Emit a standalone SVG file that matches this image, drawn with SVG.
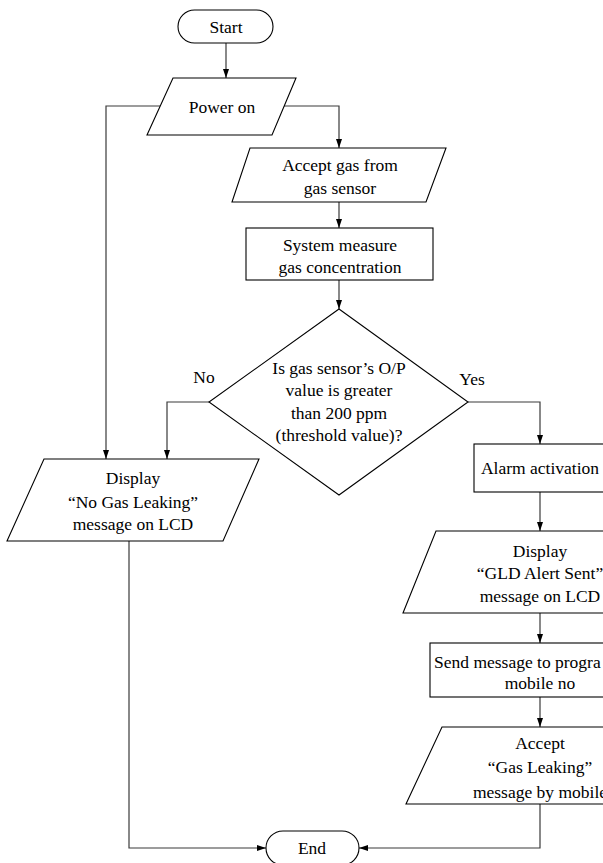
<svg xmlns="http://www.w3.org/2000/svg" width="603" height="863" viewBox="0 0 603 863">
<defs>
<style>
.s{fill:#fff;stroke:#000;stroke-width:1.1}
.c{fill:none;stroke:#3a3a3a;stroke-width:1.2}
text{font-family:"Liberation Serif","Times New Roman",serif;font-size:17.5px;fill:#000;text-anchor:middle}
</style>
<marker id="ah" viewBox="0 0 9 6" refX="9" refY="3" markerWidth="9" markerHeight="6" markerUnits="userSpaceOnUse" orient="auto">
<path d="M0,0 L9,3 L0,6 z" fill="#000"/>
</marker>
</defs>
<rect width="603" height="863" fill="#fff"/>
<g id="connectors">
<path class="c" d="M226,43 V78" marker-end="url(#ah)"/>
<path class="c" d="M160,106 H106 V459" marker-end="url(#ah)"/>
<path class="c" d="M283,106 H339 V148" marker-end="url(#ah)"/>
<path class="c" d="M339,202 V228" marker-end="url(#ah)"/>
<path class="c" d="M339,280 V309" marker-end="url(#ah)"/>
<path class="c" d="M209,402 H167 V459" marker-end="url(#ah)"/>
<path class="c" d="M468,402 H540 V444" marker-end="url(#ah)"/>
<path class="c" d="M540,492 V531" marker-end="url(#ah)"/>
<path class="c" d="M540,613 V643" marker-end="url(#ah)"/>
<path class="c" d="M540,697 V727" marker-end="url(#ah)"/>
<path class="c" d="M540,804 V848 H359" marker-end="url(#ah)"/>
<path class="c" d="M129,541 V848 H266" marker-end="url(#ah)"/>
<text x="204" y="383">No</text>
<text x="472" y="385">Yes</text>
</g>
<g id="start">
<rect class="s" x="178" y="10" width="95" height="33" rx="16.5"/>
<text x="226" y="33">Start</text>
</g>
<g id="power-on">
<polygon class="s" points="173,78 296,78 272,135 147,135"/>
<text x="222" y="113">Power on</text>
</g>
<g id="accept-gas">
<polygon class="s" points="250,148 446,148 426,202 232,202"/>
<text x="340" y="171">Accept gas from</text>
<text x="340" y="194">gas sensor</text>
</g>
<g id="system-measure">
<rect class="s" x="246" y="228" width="187" height="52"/>
<text x="340" y="251">System measure</text>
<text x="340" y="273">gas concentration</text>
</g>
<g id="decision">
<polygon class="s" points="339,309 468,402 339,495 209,402"/>
<text x="339" y="374">Is gas sensor’s O/P</text>
<text x="339" y="396">value is greater</text>
<text x="339" y="419">than 200 ppm</text>
<text x="339" y="441">(threshold value)?</text>
</g>
<g id="display-no-gas">
<polygon class="s" points="44,459 259,459 223,541 7,541"/>
<text x="133" y="484">Display</text>
<text x="133" y="508">“No Gas Leaking”</text>
<text x="133" y="530">message on LCD</text>
</g>
<g id="alarm">
<rect class="s" x="474" y="444" width="132" height="48"/>
<text x="540" y="474">Alarm activation</text>
</g>
<g id="display-gld">
<polygon class="s" points="436,531 677,531 644,613 403,613"/>
<text x="540" y="557">Display</text>
<text x="540" y="579">“GLD Alert Sent”</text>
<text x="540" y="602">message on LCD</text>
</g>
<g id="send-message">
<rect class="s" x="430" y="643" width="220" height="54"/>
<text x="434" y="668" style="text-anchor:start">Send message to progra</text>
<text x="540" y="689">mobile no</text>
</g>
<g id="accept-mobile">
<polygon class="s" points="442,727 674,727 638,804 406,804"/>
<text x="540" y="749">Accept</text>
<text x="540" y="773">“Gas Leaking”</text>
<text x="540" y="798">message by mobile</text>
</g>
<g id="end">
<rect class="s" x="266" y="831" width="93" height="34" rx="17"/>
<text x="312" y="854">End</text>
</g>
</svg>
